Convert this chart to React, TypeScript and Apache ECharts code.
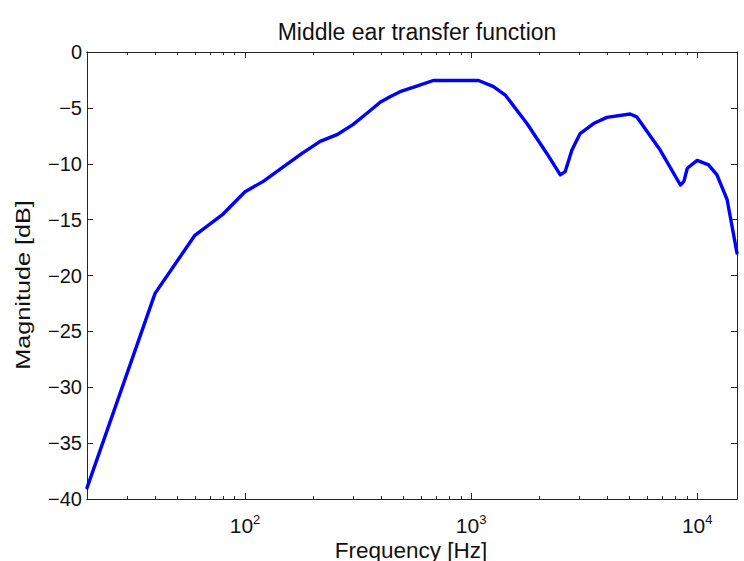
import React, { useEffect, useRef } from "react";
import * as echarts from "echarts";

// Middle ear transfer function, magnitude in dB versus frequency in Hz
const freqHz = [
  20, 40, 60, 80, 100, 120, 178, 215, 255, 300, 345, 396, 438, 485, 575, 680,
  1080, 1256, 1416, 1766, 2166, 2480, 2608, 2789, 3036, 3480, 3986, 5050, 5400,
  6870, 8430, 8730, 9040, 10000, 11230, 12230, 13560, 15000,
];
const magnitudeDb = [
  -39.0, -21.6, -16.4, -14.5, -12.5, -11.6, -9.1, -8.0, -7.4, -6.5, -5.5, -4.5,
  -4.0, -3.55, -3.05, -2.55, -2.55, -3.1, -3.85, -6.4, -9.1, -11.0, -10.7, -8.8,
  -7.3, -6.4, -5.85, -5.55, -5.8, -8.8, -11.9, -11.6, -10.4, -9.7, -10.1, -11.0,
  -13.2, -18.0,
];

// Decade ticks (labelled) and the in-between minor ticks
const majorTicks = [100, 1000, 10000];
const minorTicks = [
  20, 30, 40, 50, 60, 70, 80, 90, 200, 300, 400, 500, 600, 700, 800, 900, 2000,
  3000, 4000, 5000, 6000, 7000, 8000, 9000,
];

const FONT = "'Liberation Sans', Arial, sans-serif";
const INK = "#262626";
const TEXT = "#111111";

function logAxis(position: "top" | "bottom", ticks: number[], len: number, labels: boolean) {
  return {
    type: "log",
    logBase: 10,
    min: 20,
    max: 15000,
    position,
    gridIndex: 0,
    axisLine: { show: true, onZero: false, lineStyle: { color: INK, width: 1 } },
    axisTick: {
      show: true,
      inside: true,
      length: len,
      customValues: ticks,
      lineStyle: { color: INK, width: 1 },
    },
    splitLine: { show: false },
    minorTick: { show: false },
    axisLabel: labels
      ? {
          show: true,
          customValues: majorTicks,
          margin: 14,
          color: TEXT,
          fontFamily: FONT,
          fontSize: 21,
          formatter: (v: number) => `10{sup|${Math.round(Math.log10(v))}}`,
          rich: {
            sup: { fontSize: 13, fontFamily: FONT, color: TEXT, padding: [0, 0, 12, 0] },
          },
        }
      : { show: false },
  };
}

function linAxis(position: "left" | "right", labels: boolean) {
  return {
    type: "value",
    min: -40,
    max: 0,
    interval: 5,
    position,
    axisLine: { show: true, onZero: false, lineStyle: { color: INK, width: 1 } },
    axisTick: { show: true, inside: true, length: 6, lineStyle: { color: INK, width: 1 } },
    splitLine: { show: false },
    axisLabel: labels
      ? {
          show: true,
          margin: 5,
          color: TEXT,
          fontFamily: FONT,
          fontSize: 20,
          formatter: (v: number) => String(v).replace("-", "\u2212"),
        }
      : { show: false },
  };
}

export default function App() {
  const ref = useRef<HTMLDivElement>(null);

  useEffect(() => {
    if (!ref.current) return;
    const chart = echarts.init(ref.current, undefined, { renderer: "svg" });
    chart.setOption({
      animation: false,
      backgroundColor: "#ffffff",
      title: {
        text: "Middle ear transfer function",
        left: 412,
        top: 15,
        textAlign: "center",
        textStyle: { fontFamily: FONT, fontSize: 23, fontWeight: "normal", color: TEXT },
      },
      grid: { left: 87, right: 7, top: 52, bottom: 62, containLabel: false },
      xAxis: [
        logAxis("bottom", majorTicks, 6, true),
        logAxis("bottom", minorTicks, 3, false),
        logAxis("top", majorTicks, 6, false),
        logAxis("top", minorTicks, 3, false),
      ],
      yAxis: [linAxis("left", true), linAxis("right", false)],
      graphic: [
        {
          type: "text",
          x: 411,
          y: 550,
          style: {
            text: "Frequency [Hz]",
            font: `22.5px ${FONT}`,
            fill: TEXT,
            textAlign: "center",
            textVerticalAlign: "middle",
          },
        },
        {
          type: "text",
          x: 23,
          y: 285,
          rotation: Math.PI / 2,
          scaleX: 1.2,
          style: {
            text: "Magnitude [dB]",
            font: `21px ${FONT}`,
            fill: TEXT,
            textAlign: "center",
            textVerticalAlign: "middle",
          },
        },
      ],
      series: [
        {
          type: "line",
          xAxisIndex: 0,
          yAxisIndex: 0,
          data: freqHz.map((f, i) => [f, magnitudeDb[i]]),
          showSymbol: false,
          lineStyle: { color: "#0000ff", width: 3.4, join: "round", cap: "round" },
        },
      ],
    });
    return () => chart.dispose();
  }, []);

  return (
    <div
      ref={ref}
      style={{ position: "fixed", left: 0, top: 0, width: 744, height: 561 }}
    />
  );
}
